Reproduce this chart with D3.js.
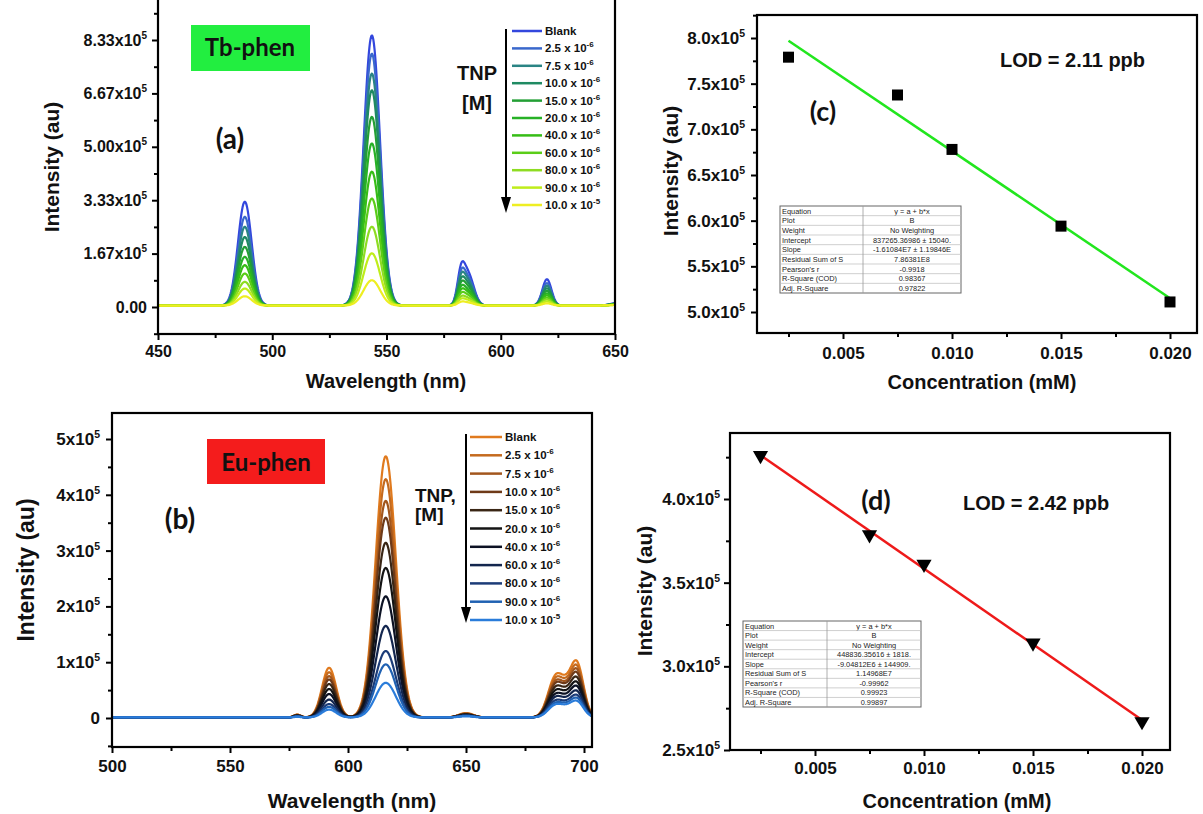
<!DOCTYPE html>
<html><head><meta charset="utf-8">
<script src="https://cdn.jsdelivr.net/npm/d3@7"></script>
<style>body{margin:0;background:#fff}</style>
</head><body><svg id="c" width="1203" height="814"></svg>
<script>
// ---------------- DATA ----------------
const tbLabels = ["Blank","2.5 x 10^-6","7.5 x 10^-6","10.0 x 10^-6","15.0 x 10^-6","20.0 x 10^-6","40.0 x 10^-6","60.0 x 10^-6","80.0 x 10^-6","90.0 x 10^-6","10.0 x 10^-5"];
const euLabels = tbLabels.slice();
const tbColors = ["#3347dd","#3a68cc","#2a8484","#1f8a62","#239f35","#27b126","#36bd16","#5acd18","#8edc22","#bfed1a","#eeee22"];
const euColors = ["#e07a1e","#c46a1e","#a2561d","#6e3a18","#3a2615","#141414","#0c1224","#13264e","#1c3c78","#2061b2","#2a7cda"];

// Tb-phen emission peaks (nm), widths (nm) and per-series heights (au, above baseline)
const tbPeakCenters = [488, 543.6, 582.6, 585.7, 620.2, 651];
const tbPeakWidths  = [3.0, 3.6, 1.6, 2.5, 2.0, 3.0];
const tb488 = [324000,277000,246000,214000,183000,152000,126000,100000,74000,53000,29000];
const tb544 = [843000,786000,724000,672000,589000,506000,418000,334000,246000,163000,79000];
const tb582 = [85000,73000,65000,56000,48000,40000,33000,26000,19000,14000,8000];
const tb585 = [97000,83000,74000,64000,55000,45000,38000,30000,22000,16000,9000];
const tb620 = [82000,70000,62000,54000,46000,38000,32000,25000,19000,13000,7000];
const tb651 = [8000,7000,6000,6000,5000,4000,4000,3000,3000,2000,2000];
const tbBaseline = 4500;

// Eu-phen emission peaks
const euPeakCenters = [578.5, 592, 616, 650, 688, 692.5, 697];
const euPeakWidths  = [1.5, 3.0, 4.3, 3.0, 3.2, 2.5, 2.8];
const eu579 = [5000,5000,4000,4000,4000,3000,3000,2000,2000,2000,1000];
const eu592 = [89000,81000,74000,68000,60000,51000,42000,32000,24000,19000,14000];
const eu616 = [468000,427000,388000,358000,313000,268000,217000,164000,119000,95000,62000];
const eu650 = [8000,7000,7000,6000,6000,5000,4000,4000,3000,3000,2000];
const eu688 = [72000,67000,62000,58000,52000,46000,40000,35000,29000,25000,22000];
const eu692 = [25000,23000,21000,20000,18000,16000,14000,12000,10000,9000,8000];
const eu697 = [95000,88000,82000,76000,68000,60000,53000,45000,38000,33000,28000];
const euBaseline = 1000;

// Calibration (c) Tb-phen and (d) Eu-phen
const concC = [0.0025, 0.0075, 0.010, 0.015, 0.020];
const intC  = [779000, 737600, 678000, 594000, 511000];
const fitC  = {a: 837265.36986, b: -1.61084e7};
const concD = [0.0025, 0.0075, 0.010, 0.015, 0.020];
const intD  = [426000, 378700, 361000, 314000, 267000];
const fitD  = {a: 448836.35616, b: -9.04812e6};

const tableCLabels = ["Equation","Plot","Weight","Intercept","Slope","Residual Sum of S","Pearson's r","R-Square (COD)","Adj. R-Square"];
const tableCValues = ["y = a + b*x","B","No Weighting","837265.36986 ± 15040.","-1.61084E7 ± 1.19846E","7.86381E8","-0.9918","0.98367","0.97822"];
const tableDLabels = ["Equation","Plot","Weight","Intercept","Slope","Residual Sum of S","Pearson's r","R-Square (COD)","Adj. R-Square"];
const tableDValues = ["y = a + b*x","B","No Weighting","448836.35616 ± 1818.","-9.04812E6 ± 144909.","1.14968E7","-0.99962","0.99923","0.99897"];

const tbXTicks = [450,500,550,600,650];
const tbYTicks = [0,166666.67,333333.33,500000,666666.67,833333.33];
const euXTicks = [500,550,600,650,700];
const euYTicks = [0,100000,200000,300000,400000,500000];
const cXTicks = [0.005,0.010,0.015,0.020];
const cYTicks = [500000,550000,600000,650000,700000,750000,800000];
const dXTicks = [0.005,0.010,0.015,0.020];
const dYTicks = [250000,300000,350000,400000];

// ---------------- DRAW ----------------
const svg = d3.select("#c");
svg.append("rect").attr("width",1203).attr("height",814).attr("fill","#fff");
const AX = "'Liberation Sans', Arial, sans-serif";
const CAL = "Lato, 'Open Sans', sans-serif";
const defs = svg.append("defs");

function richText(sel, str, supSize, rise){
  const parts = String(str).split("^");
  sel.text(null);
  sel.append("tspan").text(parts[0]);
  if (parts.length > 1) sel.append("tspan").attr("font-size", supSize).attr("dy", -rise).text(parts[1]);
}

function frameAxes(f, x, y, o){
  const g = svg.append("g");
  const mx = g.append("g").attr("transform",`translate(0,${f.b})`).call(d3.axisBottom(x).tickValues(o.xMinor).tickSize(o.minorLen).tickFormat(""));
  const my = g.append("g").attr("transform",`translate(${f.l},0)`).call(d3.axisLeft(y).tickValues(o.yMinor).tickSize(o.minorLen).tickFormat(""));
  const gx = g.append("g").attr("transform",`translate(0,${f.b})`).call(d3.axisBottom(x).tickValues(o.xMajor).tickSize(o.majorLen).tickPadding(o.xPad).tickFormat(o.xFmt));
  const gy = g.append("g").attr("transform",`translate(${f.l},0)`).call(d3.axisLeft(y).tickValues(o.yMajor).tickSize(o.majorLen).tickPadding(o.yPad).tickFormat(o.yFmt));
  [mx,my,gx,gy].forEach(a => { a.select(".domain").remove(); a.selectAll("line").attr("stroke","#000").attr("stroke-width",2); });
  [gx,gy].forEach(a => {
    a.attr("font-family",AX).attr("font-size",o.fs).attr("font-weight","bold");
    a.selectAll("text").attr("fill","#111").each(function(){ const t=d3.select(this); richText(t, t.text(), o.supFs, o.rise); });
  });
  g.append("rect").attr("x",f.l).attr("y",f.t).attr("width",f.r-f.l).attr("height",f.b-f.t)
    .attr("fill","none").attr("stroke","#000").attr("stroke-width",2.2);
}

function clip(id, f){
  defs.append("clipPath").attr("id",id).append("rect").attr("x",f.l).attr("y",f.t).attr("width",f.r-f.l).attr("height",f.b-f.t);
}

function title(x, y, txt, size, rot){
  svg.append("text").attr("transform",`translate(${x},${y})` + (rot?" rotate(-90)":""))
    .attr("text-anchor","middle").attr("font-family",AX).attr("font-weight","bold")
    .attr("font-size",size).attr("fill","#111").text(txt);
}

function spectrum(range, centers, widths, heights, i, base){
  return range.map(l => {
    let v = base;
    centers.forEach((c,j) => { v += heights[j][i] * Math.exp(-((l-c)*(l-c))/(2*widths[j]*widths[j])); });
    return [l, v];
  });
}

function legend(labels, colors, x0, x1, y0, dy, fs){
  labels.forEach((lab,i) => {
    const yy = y0 + i*dy;
    svg.append("line").attr("x1",x0).attr("x2",x1).attr("y1",yy).attr("y2",yy).attr("stroke",colors[i]).attr("stroke-width",2.5);
    const t = svg.append("text").attr("x",x1+3).attr("y",yy+4).attr("font-family",AX).attr("font-weight","bold").attr("font-size",fs).attr("fill","#111");
    richText(t, lab, 8, 5);
  });
}

function arrow(x, y0, y1){
  svg.append("line").attr("x1",x).attr("x2",x).attr("y1",y0).attr("y2",y1-12).attr("stroke","#000").attr("stroke-width",2);
  svg.append("path").attr("d",`M${x-5},${y1-16}L${x+5},${y1-16}L${x},${y1}Z`).attr("fill","#000");
}

function table(x0, y0, w, h, colX, labs, vals){
  const g = svg.append("g").attr("font-family",AX).attr("font-size",7.4).attr("fill","#222");
  const rh = h / labs.length;
  g.append("rect").attr("x",x0).attr("y",y0).attr("width",w).attr("height",h).attr("fill","#fff").attr("stroke","#666").attr("stroke-width",1);
  labs.forEach((l,i) => {
    if (i>0) g.append("line").attr("x1",x0).attr("x2",x0+w).attr("y1",y0+i*rh).attr("y2",y0+i*rh).attr("stroke","#bbb").attr("stroke-width",0.7);
    g.append("text").attr("x",x0+2).attr("y",y0+i*rh+rh-2).text(l);
    g.append("text").attr("x",(colX+x0+w)/2).attr("y",y0+i*rh+rh-2).attr("text-anchor","middle").text(vals[i]);
  });
  g.append("line").attr("x1",colX).attr("x2",colX).attr("y1",y0).attr("y2",y0+h).attr("stroke","#999").attr("stroke-width",0.8);
}

// ===== Panel (a) Tb-phen spectra =====
const fA = {l:158, r:615, t:-3, b:334};
const xA = d3.scaleLinear().domain([450,650]).range([158,615]);
const yA = d3.scaleLinear().domain([0,833333.33]).range([307,40]);
clip("clipA", fA);
const lamA = d3.range(450, 650.001, 0.25);
const tbH = [tb488, tb544, tb582, tb585, tb620, tb651];
const lineA = d3.line().x(d=>xA(d[0])).y(d=>yA(d[1]));
const gA = svg.append("g").attr("clip-path","url(#clipA)");
tbLabels.forEach((_,i) => {
  gA.append("path").attr("d", lineA(spectrum(lamA, tbPeakCenters, tbPeakWidths, tbH, i, tbBaseline)))
    .attr("fill","none").attr("stroke",tbColors[i]).attr("stroke-width",2.2).attr("stroke-linejoin","round");
});
frameAxes(fA, xA, yA, {
  xMajor: tbXTicks, xMinor: [475,525,575,625], yMajor: tbYTicks, yMinor: [83333.33,250000,416666.67,583333.33,750000,916666.67,-83333.33].filter(v=>yA(v)<=fA.b && yA(v)>=0),
  majorLen:6, minorLen:4, xPad:6, yPad:5, fs:16, supFs:10, rise:7,
  xFmt: d3.format("d"), yFmt: d => d===0 ? "0.00" : (d/1e5).toFixed(2)+"x10^5"
});
title(59, 167, "Intensity (au)", 21, true);
title(386, 388, "Wavelength (nm)", 20, false);
svg.append("rect").attr("x",191).attr("y",25).attr("width",119).attr("height",46).attr("fill","#22ee40");
svg.append("text").attr("x",250).attr("y",56).attr("text-anchor","middle").attr("font-family",CAL).attr("font-weight","bold").attr("font-size",24).attr("fill","#111").text("Tb-phen");
svg.append("text").attr("x",230).attr("y",149).attr("text-anchor","middle").attr("font-family",CAL).attr("font-weight","bold").attr("font-size",28).attr("fill","#111").text("(a)");
legend(tbLabels, tbColors, 512, 542, 31, 17.4, 11.5);
arrow(506, 29, 213);
svg.append("text").attr("x",477).attr("y",80).attr("text-anchor","middle").attr("font-family",AX).attr("font-weight","bold").attr("font-size",20).attr("fill","#111").text("TNP");
svg.append("text").attr("x",477).attr("y",110).attr("text-anchor","middle").attr("font-family",AX).attr("font-weight","bold").attr("font-size",20).attr("fill","#111").text("[M]");

// ===== Panel (b) Eu-phen spectra =====
const fB = {l:112, r:592, t:413, b:747};
const xB = d3.scaleLinear().domain([500,700]).range([112,584]);
const yB = d3.scaleLinear().domain([0,500000]).range([718,439]);
clip("clipB", fB);
const lamB = d3.range(500, 704, 0.25);
const euH = [eu579, eu592, eu616, eu650, eu688, eu692, eu697];
const lineB = d3.line().x(d=>xB(d[0])).y(d=>yB(d[1]));
const gB = svg.append("g").attr("clip-path","url(#clipB)");
euLabels.forEach((_,i) => {
  gB.append("path").attr("d", lineB(spectrum(lamB, euPeakCenters, euPeakWidths, euH, i, euBaseline)))
    .attr("fill","none").attr("stroke",euColors[i]).attr("stroke-width",2.2).attr("stroke-linejoin","round");
});
frameAxes(fB, xB, yB, {
  xMajor: euXTicks, xMinor: [525,575,625,675], yMajor: euYTicks, yMinor: [-50000,50000,150000,250000,350000,450000].filter(v=>yB(v)<=fB.b),
  majorLen:6, minorLen:4, xPad:7, yPad:6, fs:17, supFs:10.5, rise:7,
  xFmt: d3.format("d"), yFmt: d => d===0 ? "0" : (d/1e5)+"x10^5"
});
title(34, 570, "Intensity (au)", 23, true);
title(352, 808, "Wavelength (nm)", 21, false);
svg.append("rect").attr("x",207).attr("y",439).attr("width",118).attr("height",45).attr("fill","#f41c1c");
svg.append("text").attr("x",266).attr("y",471).attr("text-anchor","middle").attr("font-family",CAL).attr("font-weight","bold").attr("font-size",24).attr("fill","#111").text("Eu-phen");
svg.append("text").attr("x",180).attr("y",529).attr("text-anchor","middle").attr("font-family",CAL).attr("font-weight","bold").attr("font-size",28).attr("fill","#111").text("(b)");
legend(euLabels, euColors, 470, 502, 437, 18.3, 11.5);
arrow(466, 434, 623);
svg.append("text").attr("x",415).attr("y",502).attr("font-family",AX).attr("font-weight","bold").attr("font-size",19).attr("fill","#111").text("TNP,");
svg.append("text").attr("x",415).attr("y",521).attr("font-family",AX).attr("font-weight","bold").attr("font-size",19).attr("fill","#111").text("[M]");

// ===== Panel (c) Tb-phen calibration =====
const fC = {l:757, r:1197, t:15, b:333};
const xC = d3.scaleLinear().domain([0.005,0.020]).range([843,1170]);
const yC = d3.scaleLinear().domain([500000,800000]).range([312,38]);
frameAxes(fC, xC, yC, {
  xMajor: cXTicks, xMinor: [0.0025,0.0075,0.0125,0.0175], yMajor: cYTicks, yMinor: [525000,575000,625000,675000,725000,775000,825000].filter(v=>yC(v)>=fC.t),
  majorLen:6, minorLen:4, xPad:8, yPad:6, fs:17, supFs:10.5, rise:7,
  xFmt: d => d.toFixed(3), yFmt: d => (d/1e5).toFixed(1)+"x10^5"
});
table(780, 206, 181, 87, 863, tableCLabels, tableCValues);
svg.append("line").attr("x1",xC(concC[0])).attr("x2",xC(concC[concC.length-1]))
  .attr("y1",yC(fitC.a+fitC.b*concC[0])).attr("y2",yC(fitC.a+fitC.b*concC[concC.length-1]))
  .attr("stroke","#22e61e").attr("stroke-width",2.5);
svg.append("g").selectAll("path").data(concC).join("path")
  .attr("transform",(d,i)=>`translate(${xC(d)},${yC(intC[i])})`)
  .attr("d", d3.symbol(d3.symbolSquare, 121)()).attr("fill","#000");
title(678, 171, "Intensity (au)", 21, true);
title(982, 389, "Concentration (mM)", 20, false);
svg.append("text").attr("x",1000).attr("y",67).attr("font-family",AX).attr("font-weight","bold").attr("font-size",20).attr("fill","#111").text("LOD = 2.11 ppb");
svg.append("text").attr("x",823).attr("y",121).attr("text-anchor","middle").attr("font-family",CAL).attr("font-weight","bold").attr("font-size",27).attr("fill","#111").text("(c)");

// ===== Panel (d) Eu-phen calibration =====
const fD = {l:730, r:1170, t:433, b:750};
const xD = d3.scaleLinear().domain([0.005,0.015]).range([815,1033]);
const yD = d3.scaleLinear().domain([250000,400000]).range([750,499]);
frameAxes(fD, xD, yD, {
  xMajor: dXTicks, xMinor: [0.0025,0.0075,0.0125,0.0175], yMajor: dYTicks, yMinor: [275000,325000,375000,425000].filter(v=>yD(v)>=fD.t),
  majorLen:6, minorLen:4, xPad:6, yPad:4, fs:17, supFs:10.5, rise:7,
  xFmt: d => d.toFixed(3), yFmt: d => (d/1e5).toFixed(1)+"x10^5"
});
table(743, 621, 178, 86, 827, tableDLabels, tableDValues);
svg.append("line").attr("x1",xD(concD[0])).attr("x2",xD(concD[concD.length-1]))
  .attr("y1",yD(fitD.a+fitD.b*concD[0])).attr("y2",yD(fitD.a+fitD.b*concD[concD.length-1]))
  .attr("stroke","#ee1a1a").attr("stroke-width",2.5);
svg.append("g").selectAll("path").data(concD).join("path")
  .attr("transform",(d,i)=>`translate(${xD(d)},${yD(intD[i])}) rotate(180)`)
  .attr("d", d3.symbol(d3.symbolTriangle, 100)()).attr("fill","#000");
title(652, 591, "Intensity (au)", 21, true);
title(957, 808, "Concentration (mM)", 20, false);
svg.append("text").attr("x",963).attr("y",510).attr("font-family",AX).attr("font-weight","bold").attr("font-size",20).attr("fill","#111").text("LOD = 2.42 ppb");
svg.append("text").attr("x",876).attr("y",510).attr("text-anchor","middle").attr("font-family",CAL).attr("font-weight","bold").attr("font-size",27).attr("fill","#111").text("(d)");
</script>
</body></html>
